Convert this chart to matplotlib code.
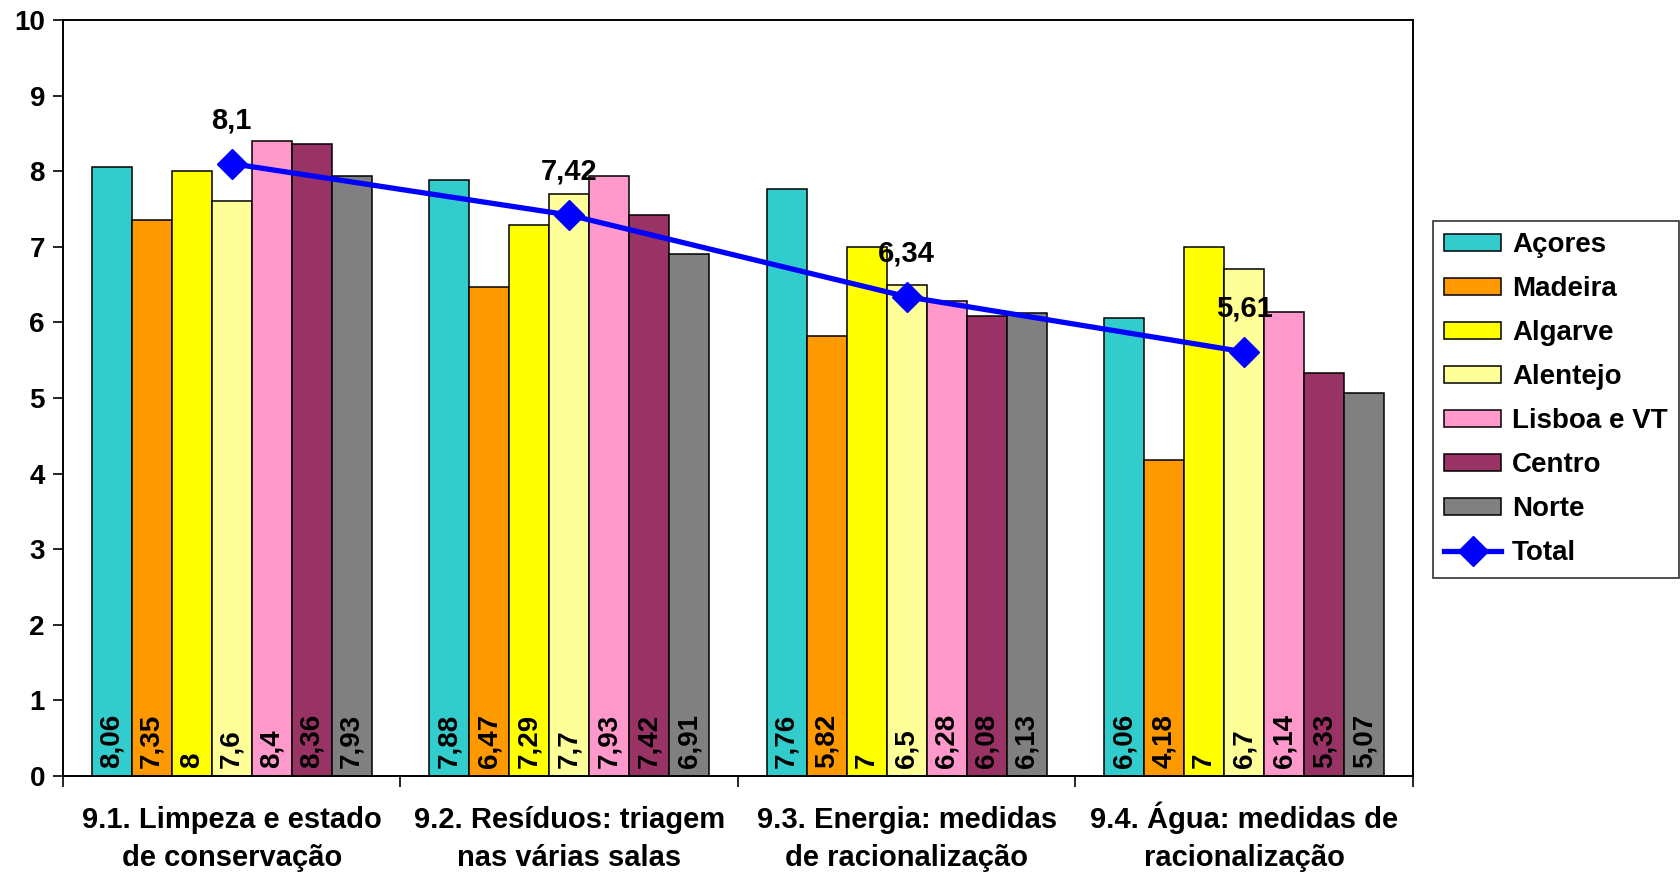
import matplotlib
matplotlib.use("Agg")
import matplotlib.pyplot as plt
import numpy as np

plt.rcParams['font.family'] = ['Liberation Sans', 'DejaVu Sans']
plt.rcParams['font.weight'] = 'bold'

categories = ["9.1. Limpeza e estado\nde conservação",
              "9.2. Resíduos: triagem\nnas várias salas",
              "9.3. Energia: medidas\nde racionalização",
              "9.4. Água: medidas de\nracionalização"]
regions = ["Açores", "Madeira", "Algarve", "Alentejo", "Lisboa e VT", "Centro", "Norte"]
acores = [8.06, 7.88, 7.76, 6.06]
madeira = [7.35, 6.47, 5.82, 4.18]
algarve = [8, 7.29, 7, 7]
alentejo = [7.6, 7.7, 6.5, 6.7]
lisboa = [8.4, 7.93, 6.28, 6.14]
centro = [8.36, 7.42, 6.08, 5.33]
norte = [7.93, 6.91, 6.13, 5.07]
total = [8.1, 7.42, 6.34, 5.61]
colors = ["#33CCCC", "#FF9900", "#FFFF00", "#FFFF99", "#FF99CC", "#993366", "#808080"]
series = [acores, madeira, algarve, alentejo, lisboa, centro, norte]
yticks = list(range(0, 11))

def fmt(v):
    return f"{v:g}".replace('.', ',')

W, H = 1681, 872
fig = plt.figure(figsize=(W / 100, H / 100), dpi=100)
ax = fig.add_axes([63 / W, 1 - 776 / H, (1413 - 63) / W, (776 - 20) / H])

x = np.arange(len(categories))
bw = 40 / 337.5
bar_handles = []
for i, (name, vals, c) in enumerate(zip(regions, series, colors)):
    pos = x + (i - 3) * bw
    b = ax.bar(pos, vals, width=bw, color=c, edgecolor='black', linewidth=1.1, label=name, zorder=2)
    bar_handles.append(b)
    for p, v in zip(pos, vals):
        ax.text(p, 0.1, fmt(v), rotation=90, ha='center', va='bottom',
                fontsize=20, fontweight='bold', zorder=3)

line, = ax.plot(x, total, color='#0000FF', linewidth=3.8, marker='D', markersize=15.5,
                label='Total', zorder=4)
for xi, v in zip(x, total):
    ax.annotate(fmt(v), (xi, v), xytext=(0, 31), textcoords='offset points',
                ha='center', va='center', fontsize=21, fontweight='bold', zorder=5)

ax.set_xlim(-0.5, 3.5)
ax.set_ylim(0, 10)
ax.set_yticks(yticks)
ax.set_yticklabels([str(t) for t in yticks], fontsize=20, fontweight='bold')
ax.tick_params(axis='y', length=7, width=1.2, direction='out', pad=6)
ax.set_xticks(np.arange(-0.5, 4, 1.0))
ax.set_xticklabels([])
ax.tick_params(axis='x', which='major', length=8, width=1.2, direction='out')

# category labels, two lines each, aligned on baselines
tr = ax.get_xaxis_transform()
y1 = -(828 - 776) / (776 - 20)
y2 = -(866 - 776) / (776 - 20)
for xi, cat in zip(x, categories):
    l1, l2 = cat.split("\n")
    ax.text(xi, y1, l1, transform=tr, ha='center', va='baseline', fontsize=21, fontweight='bold')
    ax.text(xi, y2, l2, transform=tr, ha='center', va='baseline', fontsize=21, fontweight='bold')

for s in ax.spines.values():
    s.set_linewidth(1.4)

leg = ax.legend(handles=bar_handles + [line], labels=regions + ['Total'],
                loc='upper left', bbox_to_anchor=(1433 / W, 1 - 221 / H),
                bbox_transform=fig.transFigure, fontsize=20, frameon=True,
                fancybox=False, edgecolor='black', handlelength=2.05,
                handleheight=0.55, handletextpad=0.4, labelspacing=0.65,
                borderpad=0.4, borderaxespad=0)
leg.get_frame().set_linewidth(1.2)
for t in leg.get_texts():
    t.set_fontweight('bold')

fig.savefig("out.png", dpi=100)
